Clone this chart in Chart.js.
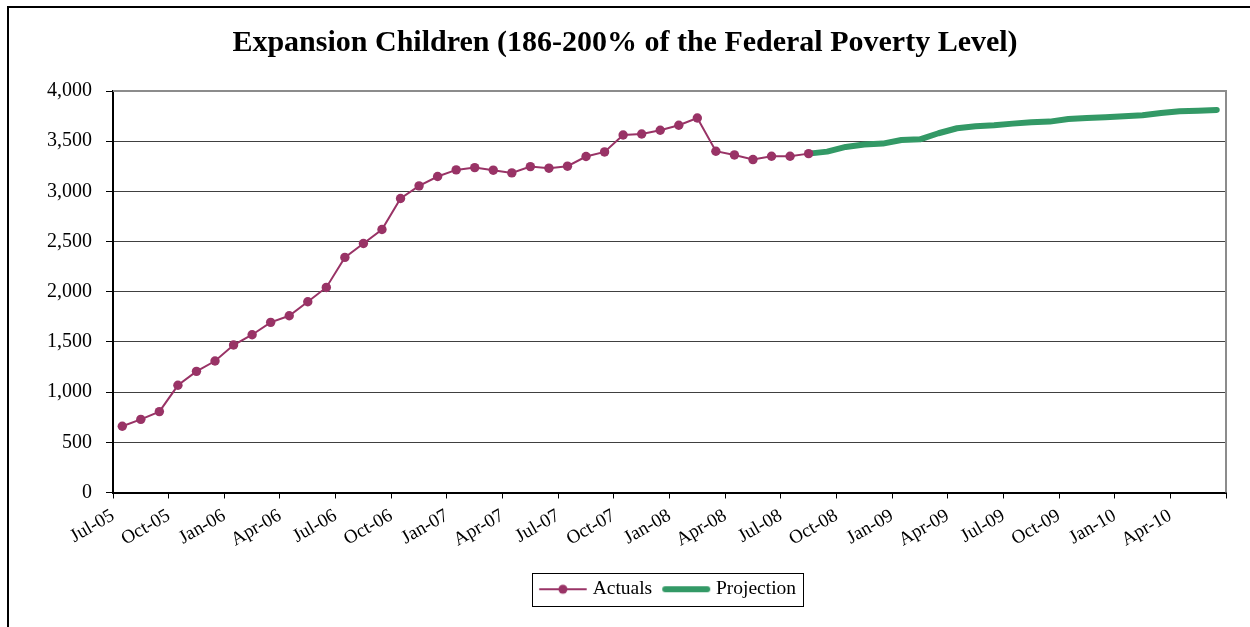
<!DOCTYPE html>
<html>
<head>
<meta charset="utf-8">
<script src="https://cdn.jsdelivr.net/npm/chart.js@4"></script>
<style>
  html, body { margin: 0; padding: 0; background: #fff; }
  #wrap { position: relative; width: 1250px; height: 627px; }
</style>
</head>
<body>
<div id="wrap"><canvas id="povertyChart" width="1250" height="627"></canvas></div>
<script>
// Số liệu (theo tháng, bắt đầu Jul-05)
const tickLabels = ['Jul-05', 'Oct-05', 'Jan-06', 'Apr-06', 'Jul-06', 'Oct-06', 'Jan-07', 'Apr-07',
    'Jul-07', 'Oct-07', 'Jan-08', 'Apr-08', 'Jul-08', 'Oct-08', 'Jan-09', 'Apr-09', 'Jul-09',
    'Oct-09', 'Jan-10', 'Apr-10', ''];

// Actuals: Jul-05 .. Aug-08
const actuals = [660, 729, 806, 1068, 1207, 1310, 1469, 1572, 1695, 1761, 1900, 2043,
    2342, 2481, 2620, 2929, 3055, 3148, 3214, 3237, 3211, 3184, 3247, 3231, 3251, 3347,
    3393, 3562, 3572, 3609, 3659, 3731, 3400, 3363, 3317, 3350, 3350, 3376];

// Projection: Aug-08 .. Jun-10
const projectionStart = 37;
const projection = [3376, 3396, 3443, 3466, 3476, 3512, 3519, 3579, 3629, 3648, 3659, 3675,
    3688, 3695, 3721, 3731, 3738, 3748, 3758, 3781, 3798, 3804, 3811];

const yTicks = { min: 0, max: 4000, step: 500 };

const serif = '"Liberation Serif", "Times New Roman", serif';

// Ký hiệu cho legend (vẽ sẵn lên canvas nhỏ)
function makeMarker(color, lineWidth, withDot) {
    const c = document.createElement('canvas');
    c.width = 50; c.height = 12;
    const g = c.getContext('2d');
    g.strokeStyle = color;
    g.lineWidth = lineWidth;
    g.lineCap = 'round';
    g.beginPath();
    g.moveTo(lineWidth / 2 + 1, 6);
    g.lineTo(50 - lineWidth / 2 - 1, 6);
    g.stroke();
    if (withDot) {
        g.fillStyle = color;
        g.beginPath();
        g.arc(25, 6, 4.5, 0, Math.PI * 2);
        g.fill();
    }
    return c;
}
const markers = [makeMarker('#993366', 2, true), makeMarker('#339966', 6, false)];

// Khung ngoài + viền vùng vẽ + viền legend
const framePlugin = {
    id: 'frame',
    afterLayout(chart) {
        // legend căn giữa theo vùng vẽ như Excel
        const lg = chart.legend, a = chart.chartArea;
        if (lg) {
            const dx = (a.left + a.right) / 2 - (lg.left + lg.right) / 2;
            lg.left += dx; lg.right += dx;
            lg.top -= 4; lg.bottom -= 4;
        }
        // tiêu đề lệch phải một chút
        const tb = chart.titleBlock;
        if (tb) { tb.left += 12; tb.right += 12; }
    },
    beforeDraw(chart) {
        const ctx = chart.ctx;
        ctx.save();
        ctx.strokeStyle = '#000';
        ctx.lineWidth = 2;
        ctx.beginPath();
        ctx.moveTo(8, 627);
        ctx.lineTo(8, 7);
        ctx.lineTo(1250, 7);
        ctx.stroke();
        ctx.restore();
    },
    afterDatasetsDraw(chart) {
        const ctx = chart.ctx;
        const a = chart.chartArea;
        ctx.save();
        ctx.strokeStyle = '#8c8c8c';
        ctx.lineWidth = 2;
        ctx.beginPath();
        ctx.moveTo(a.left, a.top);
        ctx.lineTo(a.right, a.top);
        ctx.lineTo(a.right, a.bottom);
        ctx.stroke();
        ctx.restore();
    },
    afterDraw(chart) {
        const boxes = chart.legend && chart.legend.legendHitBoxes;
        if (!boxes || !boxes.length) return;
        const first = boxes[0], last = boxes[boxes.length - 1];
        const ctx = chart.ctx;
        ctx.save();
        ctx.strokeStyle = '#000';
        ctx.lineWidth = 1;
        const l = Math.round(first.left - 11) + 0.5;
        const t = Math.round(first.top - 7) + 0.5;
        const r = Math.round(last.left + last.width + 7) + 0.5;
        const b = Math.round(first.top + first.height + 7) + 0.5;
        ctx.strokeRect(l, t, r - l, b - t);
        ctx.restore();
    }
};

const ctx = document.getElementById('povertyChart').getContext('2d');
new Chart(ctx, {
    type: 'line',
    data: {
        datasets: [{
            label: 'Actuals',
            data: actuals.map((v, i) => ({ x: i + 0.5, y: v })),
            borderColor: '#993366',
            backgroundColor: '#993366',
            borderWidth: 2,
            pointRadius: 4.7,
            pointBorderWidth: 0,
            pointBackgroundColor: '#993366',
            tension: 0,
            order: 1
        }, {
            label: 'Projection',
            data: projection.map((v, i) => ({ x: projectionStart + i + 0.5, y: v })),
            borderColor: '#339966',
            backgroundColor: '#339966',
            borderWidth: 6,
            borderCapStyle: 'round',
            borderJoinStyle: 'round',
            pointRadius: 0,
            tension: 0,
            order: 2
        }]
    },
    options: {
        responsive: false,
        animation: false,
        layout: { padding: { left: 0, right: 24, top: 10, bottom: 14 } },
        plugins: {
            title: {
                display: true,
                text: 'Expansion Children (186-200% of the Federal Poverty Level)',
                color: '#000',
                font: { family: serif, size: 30, weight: 'bold' },
                padding: { top: 15, bottom: 30 }
            },
            legend: {
                position: 'bottom',
                labels: {
                    color: '#000',
                    font: { family: serif, size: 19.5 },
                    usePointStyle: true,
                    pointStyleWidth: 40,
                    padding: 14,
                    generateLabels(chart) {
                        const items = Chart.defaults.plugins.legend.labels.generateLabels(chart);
                        items.forEach((it, i) => { it.pointStyle = markers[i]; });
                        return items;
                    }
                }
            },
            tooltip: { enabled: false }
        },
        scales: {
            x: {
                type: 'linear',
                min: 0,
                max: 60,
                afterFit(scale) { scale.height = 77; },
                border: { color: '#000', width: 2 },
                grid: { drawOnChartArea: false, drawTicks: true, tickLength: 6, tickColor: '#000' },
                ticks: {
                    stepSize: 3,
                    autoSkip: false,
                    minRotation: 30,
                    maxRotation: 30,
                    padding: 6,
                    color: '#000',
                    font: { family: serif, size: 19 },
                    callback: (value) => tickLabels[Math.round(value / 3)]
                }
            },
            y: {
                min: yTicks.min,
                max: yTicks.max,
                afterFit(scale) { scale.width = 113; },
                border: { color: '#000', width: 2 },
                grid: { color: '#404040', lineWidth: 1, tickLength: 7, tickColor: '#000' },
                ticks: {
                    stepSize: yTicks.step,
                    padding: 14,
                    color: '#000',
                    font: { family: serif, size: 20 },
                    callback: (value) => value.toLocaleString('en-US')
                }
            }
        }
    },
    plugins: [framePlugin]
});
</script>
</body>
</html>
